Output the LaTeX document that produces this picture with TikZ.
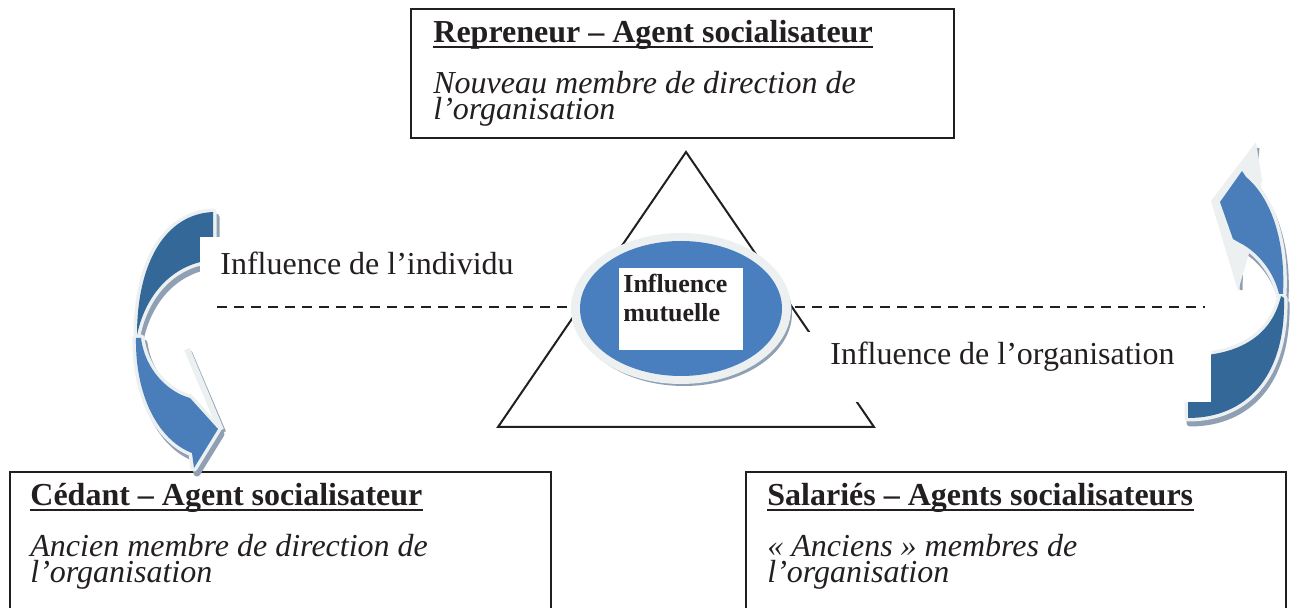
\documentclass[tikz,border=0pt]{standalone}
\usepackage{fontspec}
\setmainfont{Liberation Serif}
\usetikzlibrary{calc,shapes.geometric}
\definecolor{dkblue}{HTML}{346898}
\definecolor{ltblue}{HTML}{4A7EBB}
\definecolor{elblue}{HTML}{4A7FBF}
\definecolor{bev}{HTML}{EDF0F0}
\definecolor{shd}{HTML}{8FA0B5}
\definecolor{ink}{HTML}{231F20}
\begin{document}
\begin{tikzpicture}[x=0.5pt,y=-0.5pt,
  box/.style={draw=ink,line width=1pt,fill=white,inner sep=0pt},
  ttl/.style={anchor=base west,inner sep=0pt,font=\fontsize{16pt}{19pt}\selectfont\bfseries,text=ink},
  itl/.style={anchor=base west,inner sep=0pt,font=\fontsize{16pt}{19pt}\selectfont\itshape,text=ink},
  lbl/.style={anchor=base west,inner sep=0pt,font=\fontsize{16pt}{19pt}\selectfont,text=ink},
  mut/.style={anchor=base west,inner sep=0pt,font=\fontsize{13pt}{15pt}\selectfont\bfseries,text=ink},
  uline/.style={draw=ink,line width=1.4pt},
  bgbox/.style={fill=white,inner sep=0pt,anchor=north west},
  ldark/.style={insert path={(213,212) .. controls (166,214) and (137,262) .. (137,335) .. controls (146,292) and (175,263) .. (213,260) -- cycle}},
  llight/.style={insert path={(136,338) .. controls (135,395) and (158,440) .. (192,453) -- (194,468) -- (218,429) -- (190,398) .. controls (168,392) and (145,370) .. (141,338) -- cycle}},
  rdark/.style={insert path={(1284,298) .. controls (1286,378) and (1245,418) .. (1188,418) -- (1188,356) .. controls (1240,356) and (1272,335) .. (1281,296) -- cycle}},
  rlight/.style={insert path={(1283,294) .. controls (1286,235) and (1268,195) .. (1246,177) -- (1242,171) -- (1220,202) -- (1233,239) -- (1240,243) .. controls (1258,252) and (1274,272) .. (1279,294) -- cycle}},
  rbevel/.style={insert path={(1256,142) -- (1211,201) -- (1238,291) -- (1250,250) -- (1262,180) -- cycle}},
  shdst/.style={fill=shd,draw=shd,line width=3.5pt,line join=round},
  bevst/.style={fill=bev,draw=bev,line width=3.5pt,line join=round}
]
\useasboundingbox (0,0) rectangle (1297,608);
\clip (0,0) rectangle (1297,608);
\fill[white] (0,0) rectangle (1297,608);

% boxes
\node[box,minimum width=271.5pt,minimum height=64.5pt] (top) at (682.5,73.5) {};
\node[box,minimum width=270.5pt,minimum height=74pt] (left) at (280.5,546) {};
\node[box,minimum width=270pt,minimum height=74pt] (right) at (1016,546) {};

\node[ttl] (t1) at (433,43) {Repreneur – Agent socialisateur};
\draw[uline] ($(t1.base west)+(0,4)$) -- ($(t1.base east)+(0,4)$);
\node[itl] (t1a) at (433,94) {Nouveau membre de direction de};
\node[itl] (t1b) at (433,120) {l’organisation};

\node[ttl] (t2) at (30,506) {Cédant – Agent socialisateur};
\draw[uline] ($(t2.base west)+(0,4)$) -- ($(t2.base east)+(0,4)$);
\node[itl] (t2a) at (30,557) {Ancien membre de direction de};
\node[itl] (t2b) at (30,583) {l’organisation};

\node[ttl] (t3) at (767,506) {Salariés – Agents socialisateurs};
\draw[uline] ($(t3.base west)+(0,4)$) -- ($(t3.base east)+(0,4)$);
\node[itl] (t3a) at (767,557) {« Anciens » membres de};
\node[itl] (t3b) at (767,583) {l’organisation};

% triangle and dashed line
\draw[ink,line width=1pt,line join=miter] (686,152) -- (874,427) -- (498,427) -- cycle;
\draw[ink,line width=0.75pt,dash pattern=on 5pt off 3.5pt] (217,307) -- (1205,307);

% left curved arrow
\begin{scope}[shift={(3,5)}]
  \path[shdst,ldark];
  \path[shdst,llight];
\end{scope}
\draw[shd,line width=2pt] (190,352) -- (224,432);
\path[bevst,ldark];
\path[bevst,llight];
\draw[bev,line width=3pt] (187,349) -- (221,430);
\fill[dkblue,ldark];
\fill[ltblue,llight];

% right curved arrow
\begin{scope}[shift={(2,5)}]
  \path[shdst,rdark];
  \path[shdst,rlight];
\end{scope}
\draw[shd,line width=1.5pt] (1258,148) -- (1255,180);
\draw[shd,line width=1.5pt] (1242,250) -- (1241,290);
\path[fill=bev,rbevel];
\path[bevst,rdark];
\path[bevst,rlight];
\fill[dkblue,rdark];
\fill[ltblue,rlight];

% labels with white backgrounds
\node[bgbox,minimum width=162.5pt,minimum height=30pt] (lab1bg) at (200,237) {};
\node[lbl] (lab1) at (220,275) {Influence de l’individu};
\node[bgbox,minimum width=203pt,minimum height=35pt] (lab2bg) at (805,332) {};
\node[lbl] (lab2) at (830,365) {Influence de l’organisation};

% central ellipse
\fill[shd] (684,313) ellipse (108 and 73);
\fill[bev] (681,308.5) ellipse (110 and 75.5);
\node[ellipse,fill=elblue,minimum width=101pt,minimum height=67.5pt,inner sep=0pt] (mutel) at (681,308.5) {};
\node[fill=white,minimum width=62pt,minimum height=41pt,inner sep=0pt] (mutbg) at (681,309) {};
\node[mut] (m1) at (623,293) {Influence};
\node[mut] (m2) at (623,322) {mutuelle};
\end{tikzpicture}
\end{document}
